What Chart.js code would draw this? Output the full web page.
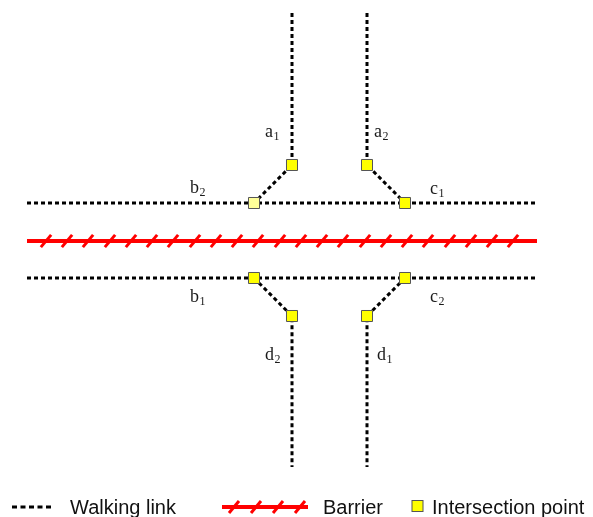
<!DOCTYPE html>
<html>
<head>
<meta charset="utf-8">
<script src="https://cdn.jsdelivr.net/npm/chart.js@4.4.1/dist/chart.umd.min.js"></script>
<style>
  html, body { margin: 0; padding: 0; background: #fff; }
  #wrap { width: 593px; height: 517px; }
</style>
</head>
<body>
<div id="wrap"><canvas id="chart1" width="593" height="517"></canvas></div>
<script>
/* Diagram coordinates: x to the right, y downwards */

// walking links (dotted)
const linkA1 = [[292, 13], [292, 165], [254, 203]];
const linkA2 = [[367, 13], [367, 165], [405, 203]];
const linkUpper = [[27, 203], [537, 203]];
const linkLower = [[27, 278], [537, 278]];
const linkD2 = [[254, 278], [292, 316], [292, 467]];
const linkD1 = [[405, 278], [367, 316], [367, 467]];

// barrier
const barrierX = [27, 537];
const barrierY = 241;
const hatchX = [46, 67, 88, 110, 131, 152, 173, 195, 216, 237, 258, 280, 301, 322, 343, 365, 386, 407, 428, 450, 471, 492, 513];

// intersection points: a1 a2 b2 c1 b1 c2 d2 d1
const pointX = [292, 367, 254, 405, 254, 405, 292, 367];
const pointY = [165, 165, 203, 203, 278, 278, 316, 316];
const pointPale = [false, false, true, false, false, false, false, false];

// labels
const labelName = ['a', 'a', 'b', 'c', 'b', 'c', 'd', 'd'];
const labelSub = ['1', '2', '2', '1', '1', '2', '2', '1'];
const labelX = [265, 374, 190, 430, 190, 430, 265, 377];
const labelY = [137, 137, 193, 194, 302, 302, 360, 360];

const toXY = (pts) => pts.map(p => ({ x: p[0], y: p[1] }));

const walkStyle = {
    showLine: true,
    borderColor: '#000',
    borderWidth: 3,
    borderDash: [4, 3],
    pointRadius: 0,
    fill: false,
    order: 3
};

const labelPlugin = {
    id: 'labels',
    afterDatasetsDraw(chart) {
        const c = chart.ctx;
        const xs = chart.scales.x, ys = chart.scales.y;
        c.save();
        c.fillStyle = '#1a1a1a';
        c.textBaseline = 'alphabetic';
        labelName.forEach((name, i) => {
            const px = xs.getPixelForValue(labelX[i]);
            const py = ys.getPixelForValue(labelY[i]);
            c.font = '18px "Liberation Serif", "Times New Roman", serif';
            c.fillText(name, px, py);
            const w = c.measureText(name).width;
            c.font = '12px "Liberation Serif", "Times New Roman", serif';
            c.fillText(labelSub[i], px + w + 0.5, py + 3);
        });
        c.restore();
    }
};

const legendPlugin = {
    id: 'diagramLegend',
    afterDraw(chart) {
        const c = chart.ctx;
        const y = 507;
        c.save();
        // walking link
        c.strokeStyle = '#000';
        c.lineWidth = 3;
        c.setLineDash([5, 3.5]);
        c.beginPath();
        c.moveTo(12, y);
        c.lineTo(54, y);
        c.stroke();
        c.setLineDash([]);
        // barrier
        c.strokeStyle = '#ff0000';
        c.lineWidth = 4;
        c.beginPath();
        c.moveTo(222, y);
        c.lineTo(308, y);
        c.stroke();
        c.lineWidth = 3;
        [234, 256, 278, 300].forEach(hx => {
            c.beginPath();
            c.moveTo(hx - 5, y + 6);
            c.lineTo(hx + 5, y - 6);
            c.stroke();
        });
        // intersection point
        c.fillStyle = '#ffff00';
        c.strokeStyle = '#555';
        c.lineWidth = 1;
        c.fillRect(412, 500.5, 11, 11);
        c.strokeRect(412, 500.5, 11, 11);
        // texts
        c.fillStyle = '#111';
        c.font = '20px "Liberation Sans", Arial, sans-serif';
        c.textBaseline = 'alphabetic';
        c.fillText('Walking link', 70, 514);
        c.fillText('Barrier', 323, 514);
        c.fillText('Intersection point', 432, 514);
        c.restore();
    }
};

const data = {
    datasets: [
        {
            data: pointX.map((x, i) => ({ x, y: pointY[i] })),
            showLine: false,
            pointStyle: 'rect',
            pointRadius: 7.8,
            pointBackgroundColor: pointPale.map(p => p ? '#ffff99' : '#ffff00'),
            pointBorderColor: '#555',
            pointBorderWidth: 1,
            order: 0
        },
        {
            data: hatchX.map(x => ({ x, y: barrierY })),
            showLine: false,
            pointStyle: 'line',
            pointRadius: 8,
            rotation: -50,
            pointBorderColor: '#ff0000',
            pointBorderWidth: 3,
            order: 1
        },
        {
            data: barrierX.map(x => ({ x, y: barrierY })),
            showLine: true,
            borderColor: '#ff0000',
            borderWidth: 4,
            pointRadius: 0,
            order: 2
        },
        { data: toXY(linkA1), ...walkStyle },
        { data: toXY(linkA2), ...walkStyle },
        { data: toXY(linkUpper), ...walkStyle },
        { data: toXY(linkLower), ...walkStyle },
        { data: toXY(linkD2), ...walkStyle },
        { data: toXY(linkD1), ...walkStyle }
    ]
};

const config = {
    type: 'scatter',
    data,
    options: {
        responsive: false,
        animation: false,
        events: [],
        layout: { padding: 0, autoPadding: false },
        plugins: {
            legend: { display: false },
            tooltip: { enabled: false }
        },
        scales: {
            x: { type: 'linear', min: 0, max: 593, display: false },
            y: { type: 'linear', min: 0, max: 517, reverse: true, display: false }
        }
    },
    plugins: [labelPlugin, legendPlugin]
};

const chart1 = new Chart(document.getElementById('chart1'), config);
</script>
</body>
</html>
